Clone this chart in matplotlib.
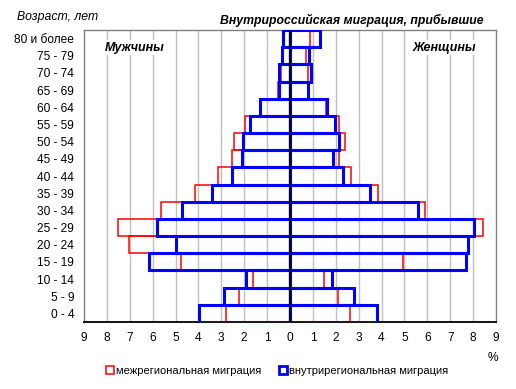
import matplotlib
matplotlib.use("Agg")
import matplotlib.pyplot as plt
from matplotlib.lines import Line2D
import numpy as np

plt.rcParams['font.family'] = ['Liberation Sans', 'DejaVu Sans']

ages = ["0 - 4", "5 - 9", "10 - 14", "15 - 19", "20 - 24", "25 - 29", "30 - 34",
        "35 - 39", "40 - 44", "45 - 49", "50 - 54", "55 - 59", "60 - 64",
        "65 - 69", "70 - 74", "75 - 79", "80 и более"]

# Men (left side), %
men_inter = [2.78, 2.22, 1.60, 4.75, 7.03, 7.51, 5.63, 4.14, 3.13, 2.55, 2.43, 1.97, 1.31, 0.54, 0.39, 0.29, 0.25]
men_intra = [3.99, 2.89, 1.94, 6.18, 4.99, 5.79, 4.74, 3.41, 2.55, 2.11, 2.06, 1.75, 1.31, 0.50, 0.48, 0.36, 0.31]
# Women (right side), %
women_inter = [2.64, 2.11, 1.50, 4.93, 7.80, 8.45, 5.92, 3.86, 2.67, 2.16, 2.42, 2.16, 1.57, 0.77, 0.80, 0.71, 0.89]
women_intra = [3.79, 2.80, 1.82, 7.70, 7.76, 8.05, 5.60, 3.50, 2.32, 1.88, 2.16, 1.97, 1.60, 0.77, 0.92, 0.83, 1.30]

x_ticks = list(range(-9, 10))
x_labels = [str(abs(v)) for v in x_ticks]

RED = "#ff0000"
BLUE = "#0000ff"

fig = plt.figure(figsize=(5.16, 3.89), dpi=100)
ax = fig.add_axes([0.1628, 0.1722, 0.7984, 0.7507])

y = np.arange(len(ages))
ax.set_xlim(-9, 9)
ax.set_ylim(-0.5, len(ages) - 0.5)

for xv in x_ticks:
    if xv not in (-9, 9, 0):
        ax.axvline(xv, color="#c0c0c0", lw=1.0, zorder=0)

ax.barh(y, -np.array(men_inter), height=1.0, fill=False, edgecolor=RED, linewidth=1.1, zorder=2)
ax.barh(y, women_inter, height=1.0, fill=False, edgecolor=RED, linewidth=1.1, zorder=2)
ax.barh(y, -np.array(men_intra), height=1.0, fill=False, edgecolor=BLUE, linewidth=2.2, zorder=3)
ax.barh(y, women_intra, height=1.0, fill=False, edgecolor=BLUE, linewidth=2.2, zorder=3)
ax.axvline(0, color="black", lw=1.6, zorder=4)

ax.set_yticks(y)
ax.set_yticklabels(ages, fontsize=8.6)
ax.set_xticks(x_ticks)
ax.set_xticklabels(x_labels, fontsize=8.6)
ax.tick_params(axis='y', length=0, pad=7)
ax.tick_params(axis='x', length=0, pad=7)

for side in ("left", "right", "top"):
    ax.spines[side].set_color("#808080")
    ax.spines[side].set_linewidth(1.0)
ax.spines["bottom"].set_color("black")
ax.spines["bottom"].set_linewidth(1.3)

bbox = dict(facecolor="white", edgecolor="none", pad=1)
ax.text(-6.78, 15.48, "Мужчины", fontsize=9, fontweight="bold", fontstyle="italic",
        ha="center", va="center", bbox=bbox, zorder=5)
ax.text(6.73, 15.48, "Женщины", fontsize=9, fontweight="bold", fontstyle="italic",
        ha="center", va="center", bbox=bbox, zorder=5)

fig.text(484/516, 1 - 20/389, "Внутрироссийская миграция, прибывшие", fontsize=8.8,
         fontweight="bold", fontstyle="italic", ha="right", va="center")
fig.text(17/516, 1 - 17/389, "Возраст, лет", fontsize=8.8, fontstyle="italic",
         ha="left", va="center")
fig.text(493/516, 1 - 358/389, "%", fontsize=8.6, ha="center", va="center")

handles = [Line2D([], [], marker="s", linestyle="none", markersize=5.5,
                  markerfacecolor="white", markeredgecolor=RED, markeredgewidth=1.1),
           Line2D([], [], marker="s", linestyle="none", markersize=5.5,
                  markerfacecolor="white", markeredgecolor=BLUE, markeredgewidth=2.0)]
fig.legend(handles, ["межрегиональная миграция", "внутрирегиональная миграция"],
           loc="center", bbox_to_anchor=(277/516, 1 - 371/389), ncol=2, frameon=False,
           fontsize=8, handletextpad=0.1, columnspacing=1.6, handlelength=0.8)

fig.savefig("out.png", dpi=100)
